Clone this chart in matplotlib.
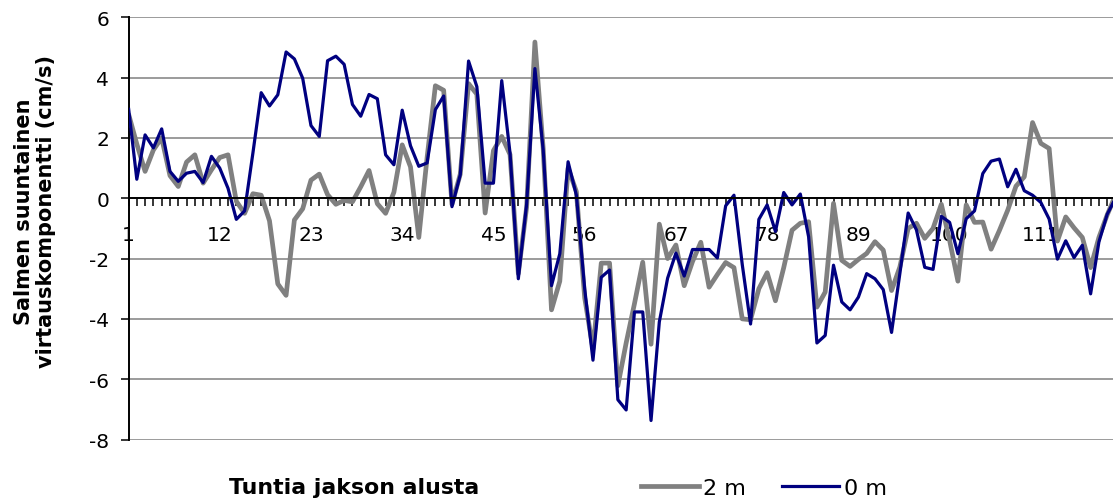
import matplotlib
matplotlib.use("Agg")
import matplotlib.pyplot as plt
from matplotlib.lines import Line2D

plt.rcParams['font.family'] = ['DejaVu Sans']
plt.rcParams['axes.unicode_minus'] = False

# Hours since the start of the period
hours = list(range(1, 121))

# Channel-parallel current component (cm/s) at 2 m depth
depth_2m = [
    2.8, 1.8, 0.89, 1.6, 2.0, 0.75, 0.39, 1.2, 1.44, 0.5,
    0.94, 1.35, 1.44, -0.1, -0.5, 0.15, 0.1, -0.75, -2.84, -3.22,
    -0.72, -0.35, 0.6, 0.8, 0.12, -0.2, -0.07, -0.12, 0.38, 0.92,
    -0.18, -0.5, 0.2, 1.77, 1.04, -1.3, 1.35, 3.73, 3.58, -0.2,
    0.8, 3.8, 3.45, -0.49, 1.58, 2.05, 1.45, -2.5, -0.3, 5.18,
    1.65, -3.7, -2.75, 1.0, 0.22, -3.3, -5.0, -2.15, -2.15, -6.22,
    -4.8, -3.5, -2.12, -4.84, -0.86, -2.0, -1.55, -2.9, -2.1, -1.46,
    -2.95, -2.53, -2.13, -2.3, -4.0, -4.03, -3.0, -2.47, -3.4, -2.3,
    -1.06, -0.83, -0.78, -3.61, -3.11, -0.17, -2.06, -2.26, -2.03, -1.83,
    -1.44, -1.72, -3.06, -2.28, -1.0, -0.83, -1.33, -1.0, -0.2, -1.4,
    -2.75, -0.22, -0.8, -0.79, -1.69, -1.07, -0.4, 0.4, 0.71, 2.51,
    1.82, 1.65, -1.42, -0.62, -0.98, -1.3, -2.3, -1.3, -0.55, 0.1,
]

# Channel-parallel current component (cm/s) at the surface (0 m)
depth_0m = [
    3.0, 0.63, 2.1, 1.67, 2.3, 0.89, 0.56, 0.83, 0.89, 0.52,
    1.39, 1.0, 0.33, -0.7, -0.42, 1.5, 3.5, 3.06, 3.43, 4.85,
    4.62, 3.98, 2.41, 2.05, 4.56, 4.71, 4.44, 3.11, 2.72, 3.44,
    3.3, 1.44, 1.11, 2.92, 1.74, 1.06, 1.17, 2.94, 3.39, -0.28,
    0.78, 4.55, 3.7, 0.5, 0.5, 3.9, 1.5, -2.67, -0.2, 4.3,
    1.6, -2.9, -1.84, 1.21, 0.1, -3.0, -5.37, -2.62, -2.38, -6.68,
    -7.02, -3.77, -3.77, -7.37, -4.1, -2.65, -1.82, -2.58, -1.7, -1.7,
    -1.7, -1.98, -0.25, 0.1, -2.2, -4.17, -0.7, -0.22, -1.1, 0.19,
    -0.22, 0.14, -1.28, -4.8, -4.55, -2.22, -3.44, -3.7, -3.28, -2.5,
    -2.67, -3.03, -4.45, -2.5, -0.49, -1.05, -2.29, -2.36, -0.6, -0.8,
    -1.84, -0.68, -0.42, 0.82, 1.23, 1.3, 0.38, 0.96, 0.25, 0.1,
    -0.14, -0.69, -2.02, -1.41, -1.97, -1.56, -3.17, -1.45, -0.53, 0.0,
]

series_labels = ["2 m", "0 m"]
x_label_values = list(range(1, 121, 11))
y_ticks = list(range(-8, 7, 2))

W, H = 1113, 502
fig = plt.figure(figsize=(W / 100, H / 100), dpi=100)
left_px, right_px, top_px, bottom_px = 128.5, 1115.5, 18.3, 440.5
ax = fig.add_axes([left_px / W, 1 - bottom_px / H,
                   (right_px - left_px) / W, (bottom_px - top_px) / H])

gray = "#808080"
navy = "#000080"

ax.plot(hours, depth_2m, color=gray, lw=3.4, solid_joinstyle="round",
        solid_capstyle="butt", zorder=3)
ax.plot(hours, depth_0m, color=navy, lw=2.3, solid_joinstyle="round",
        solid_capstyle="butt", zorder=4)

ax.set_xlim(1, 120)
ax.set_ylim(-8, 6)

# horizontal gridlines
ax.set_yticks(y_ticks)
ax.yaxis.grid(True, color="#8a8a8a", lw=1.2, zorder=0)
ax.set_axisbelow(True)

# x axis crosses at zero, tick mark at every hour
ax.spines["bottom"].set_position(("data", 0))
ax.spines["bottom"].set_linewidth(1.4)
ax.spines["bottom"].set_zorder(5)
ax.spines["left"].set_linewidth(1.4)
ax.spines["top"].set_visible(False)
ax.spines["right"].set_visible(False)

ax.set_xticks(hours)
ax.set_xticklabels([str(h) if h in x_label_values else "" for h in hours])
ax.tick_params(axis="x", direction="out", length=6, width=1.1, pad=13,
               labelsize=14.5, colors="black")
ax.tick_params(axis="y", direction="out", length=6, width=1.1, pad=8,
               labelsize=14.5)

fig.text(35 / W, 1 - 212 / H, "Salmen suuntainen\nvirtauskomponentti (cm/s)",
         rotation=90, ha="center", va="center", fontweight="bold",
         fontsize=15, linespacing=1.1)
fig.text(354 / W, 1 - 488 / H, "Tuntia jakson alusta", ha="center",
         va="center", fontweight="bold", fontsize=15.8)

handles = [Line2D([], [], color=gray, lw=3.4),
           Line2D([], [], color=navy, lw=2.3)]
fig.legend(handles, series_labels, loc="center left",
           bbox_to_anchor=(641 / W, 1 - 489 / H), ncol=2, frameon=False,
           fontsize=16, handlelength=2.6, handletextpad=0.2,
           columnspacing=1.6, borderaxespad=0, borderpad=0)

fig.savefig("out.png", dpi=100)
